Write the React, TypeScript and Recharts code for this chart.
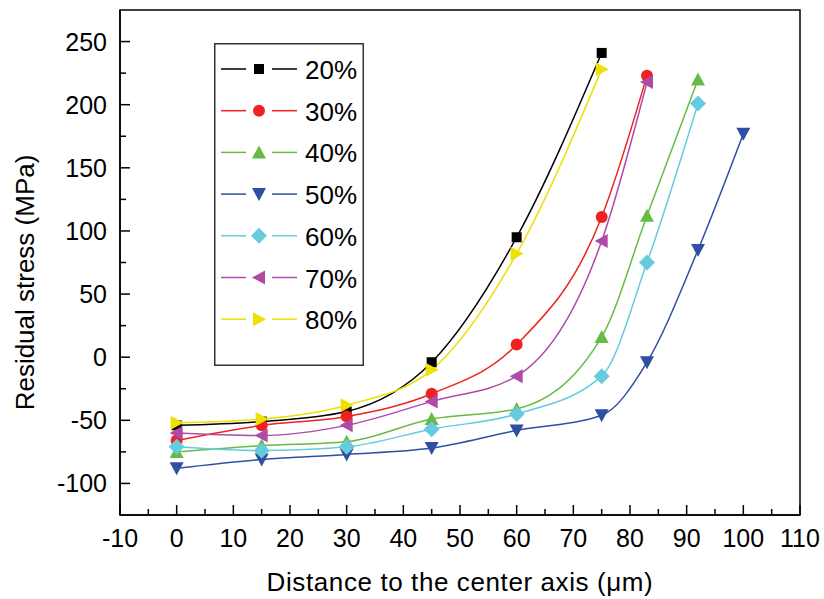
import { LineChart, Line, XAxis, YAxis, ReferenceArea, Legend } from "recharts";

document.body.style.margin = "0";

// distance to the center axis (um)
const distance = [0, 15, 30, 45, 60, 75, 83, 92, 100];

// residual stress (MPa) per percentage
const stress20 = [-54, -51, -43, -4, 95, 241];
const stress30 = [-66, -54, -47, -29, 10, 111, 223];
const stress40 = [-75, -70, -67, -49, -41, 16, 112, 220];
const stress50 = [-88, -81, -77, -72, -58, -46, -4, 85, 177];
const stress60 = [-71, -74, -71, -57, -45, -15, 75, 201];
const stress70 = [-60, -62, -54, -35, -15, 92, 218];
const stress80 = [-52, -49, -38, -10, 82, 228];

const seriesNames = ["20%", "30%", "40%", "50%", "60%", "70%", "80%"];
const seriesValues = [stress20, stress30, stress40, stress50, stress60, stress70, stress80];
const seriesColors = ["#000000", "#ee2222", "#66bb44", "#2e4fa3", "#66ccdd", "#b04aa8", "#eee000"];
const seriesShapes = ["square", "circle", "up", "down", "diamond", "left", "right"];

const xTicks = [-10, -5, 0, 5, 10, 15, 20, 25, 30, 35, 40, 45, 50, 55, 60, 65, 70, 75, 80, 85, 90, 95, 100, 105, 110];
const yTicks = [-100, -75, -50, -25, 0, 25, 50, 75, 100, 125, 150, 175, 200, 225, 250];

const rows = distance.map((d, i) => {
  const row: Record<string, number | undefined> = { distance: d };
  seriesNames.forEach((name, k) => {
    row[name] = seriesValues[k][i];
  });
  return row;
});

const FONT = "'Liberation Sans', Arial, sans-serif";

function Marker({ shape, cx, cy, color }: { shape: string; cx: number; cy: number; color: string }) {
  switch (shape) {
    case "square":
      return <rect x={cx - 5} y={cy - 5} width={10} height={10} fill={color} />;
    case "circle":
      return <circle cx={cx} cy={cy} r={6} fill={color} />;
    case "up":
      return <polygon points={`${cx},${cy - 7} ${cx + 7},${cy + 6} ${cx - 7},${cy + 6}`} fill={color} />;
    case "down":
      return <polygon points={`${cx - 7},${cy - 6} ${cx + 7},${cy - 6} ${cx},${cy + 7}`} fill={color} />;
    case "diamond":
      return <polygon points={`${cx},${cy - 8} ${cx + 8},${cy} ${cx},${cy + 8} ${cx - 8},${cy}`} fill={color} />;
    case "left":
      return <polygon points={`${cx - 7},${cy} ${cx + 6},${cy - 7} ${cx + 6},${cy + 7}`} fill={color} />;
    default:
      return <polygon points={`${cx + 7},${cy} ${cx - 6},${cy - 7} ${cx - 6},${cy + 7}`} fill={color} />;
  }
}

const XTick = (props: any) => {
  const { x, y, payload } = props;
  const major = payload.value % 10 === 0;
  return (
    <g>
      <line x1={x} x2={x} y1={y} y2={y - (major ? 10 : 6)} stroke="#000" strokeWidth={1.5} />
      {major && (
        <text x={x} y={y + 32} textAnchor="middle" fontFamily={FONT} fontSize={25} fill="#000">
          {payload.value}
        </text>
      )}
    </g>
  );
};

const YTick = (props: any) => {
  const { x, y, payload } = props;
  const major = payload.value % 50 === 0;
  return (
    <g>
      <line x1={x} x2={x + (major ? 10 : 6)} y1={y} y2={y} stroke="#000" strokeWidth={1.5} />
      {major && (
        <text x={x - 13} y={y + 9} textAnchor="end" fontFamily={FONT} fontSize={25} fill="#000">
          {payload.value}
        </text>
      )}
    </g>
  );
};

const YTitle = (props: any) => {
  const { y, height } = props.viewBox;
  const cx = 25;
  const cy = y + height / 2 + 20;
  return (
    <text
      x={cx}
      y={cy}
      transform={`rotate(-90, ${cx}, ${cy})`}
      textAnchor="middle"
      dominantBaseline="central"
      fontFamily={FONT}
      fontSize={26}
      fill="#000"
    >
      Residual stress (MPa)
    </text>
  );
};

const XTitle = (props: any) => {
  const { x, width } = props.viewBox;
  return (
    <text x={x + width / 2} y={591} textAnchor="middle" fontFamily={FONT} fontSize={26} letterSpacing={0.6} fill="#000">
      Distance to the center axis (μm)
    </text>
  );
};

const LegendBox = () => (
  <svg width={150} height={323} style={{ display: "block" }}>
    <rect x={0.75} y={0.75} width={148.5} height={321.5} fill="none" stroke="#333" strokeWidth={1.5} />
    {seriesNames.map((name, i) => {
      const cy = 26 + i * 41.7;
      return (
        <g key={name}>
          <line x1={7} x2={32} y1={cy} y2={cy} stroke={seriesColors[i]} strokeWidth={1.5} />
          <Marker shape={seriesShapes[i]} cx={45} cy={cy} color={seriesColors[i]} />
          <line x1={58} x2={83} y1={cy} y2={cy} stroke={seriesColors[i]} strokeWidth={1.5} />
          <text x={91} y={cy + 10} fontFamily={FONT} fontSize={26} fill="#000">
            {name}
          </text>
        </g>
      );
    })}
  </svg>
);

export default function App() {
  return (
    <LineChart width={824} height={599} data={rows} margin={{ top: 10, right: 24, bottom: 0, left: 0 }}>
      <ReferenceArea x1={-10} x2={110} y1={-125} y2={275} fill="none" stroke="#000" strokeWidth={1.5} />
      <XAxis
        type="number"
        dataKey="distance"
        domain={[-10, 110]}
        ticks={xTicks}
        interval={0}
        tickLine={false}
        tickSize={0}
        tickMargin={0}
        tick={<XTick />}
        height={84}
        axisLine={{ stroke: "#000", strokeWidth: 1.5 }}
        label={<XTitle />}
      />
      <YAxis
        type="number"
        domain={[-125, 275]}
        ticks={yTicks}
        interval={0}
        tickLine={false}
        tickSize={0}
        tickMargin={0}
        tick={<YTick />}
        width={120}
        axisLine={{ stroke: "#000", strokeWidth: 1.5 }}
        label={<YTitle />}
      />
      <Legend
        layout="vertical"
        align="center"
        verticalAlign="middle"
        content={() => <LegendBox />}
        wrapperStyle={{ position: "absolute", left: 214, top: 43, width: 150, height: 323 }}
      />
      {seriesNames.map((name, i) => (
        <Line
          key={name}
          type="monotone"
          dataKey={name}
          name={name}
          stroke={seriesColors[i]}
          strokeWidth={1.5}
          isAnimationActive={false}
          dot={(p: any) =>
            p.cy == null || p.value == null ? (
              <g key={`${name}-${p.index}`} />
            ) : (
              <Marker key={`${name}-${p.index}`} shape={seriesShapes[i]} cx={p.cx} cy={p.cy} color={seriesColors[i]} />
            )
          }
          activeDot={false}
        />
      ))}
    </LineChart>
  );
}
